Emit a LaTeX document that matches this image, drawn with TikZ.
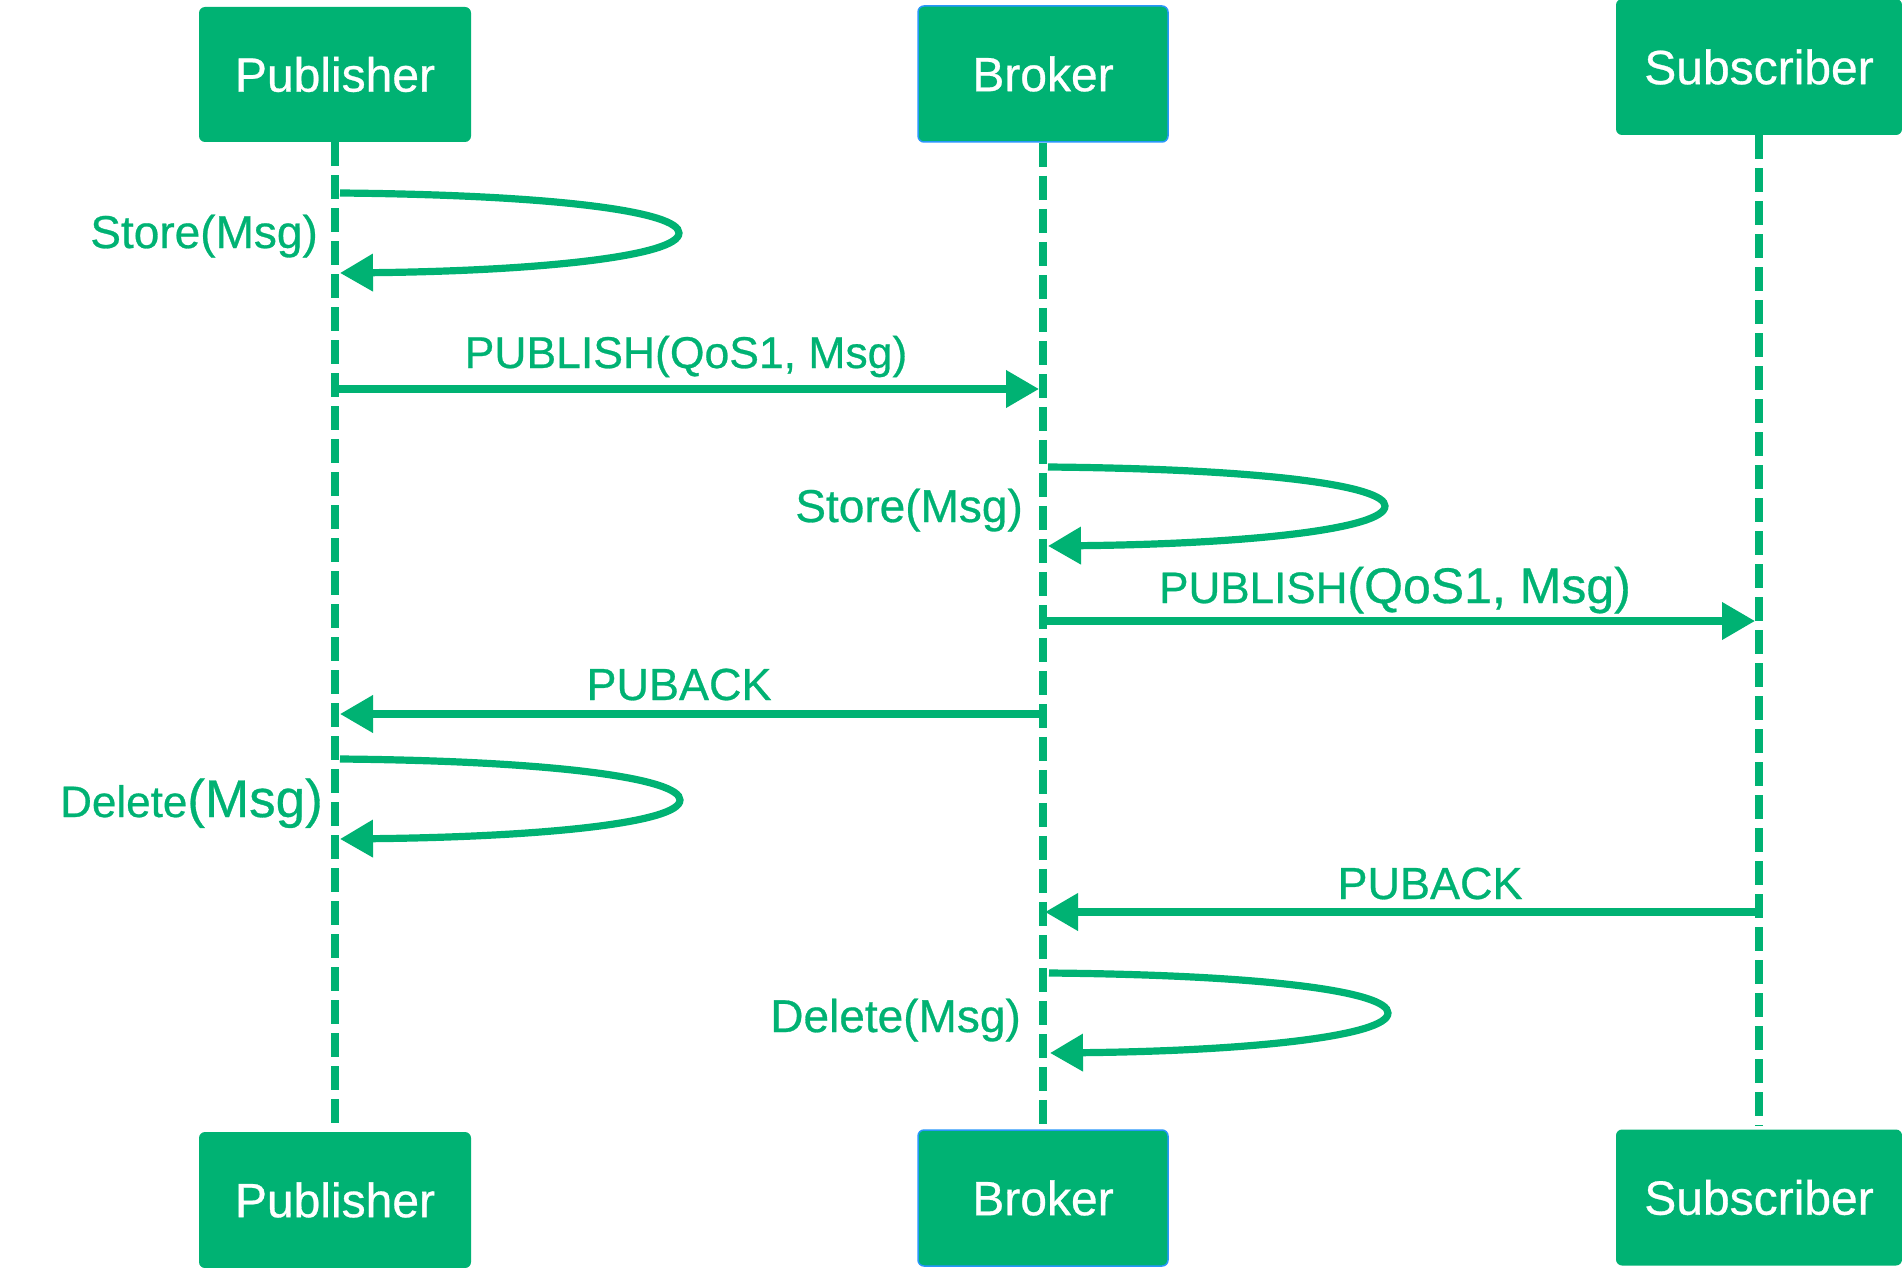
\documentclass[tikz,border=0pt]{standalone}
\usepackage{fontspec}
\setmainfont{Liberation Sans}[FakeBold=0.6]
\usetikzlibrary{arrows.meta}
\definecolor{mqgreen}{RGB}{0,178,115}
\definecolor{mqblue}{RGB}{40,150,250}
\begin{document}
\begin{tikzpicture}[x=1pt,y=-1pt,
  actor/.style={rectangle, rounded corners=6pt, fill=mqgreen, text=white, inner sep=0pt, font=\fontsize{48}{52}\selectfont},
  brokerbox/.style={actor, draw=mqblue, line width=1.5pt},
  life/.style={mqgreen, line width=7.5pt, dash pattern=on 24pt off 9pt, shorten >=4pt},
  msg/.style={mqgreen, line width=7.2pt, -{Triangle[length=33pt,width=36pt]}},
  lbl/.style={text=mqgreen, inner sep=0pt, font=\fontsize{46}{50}\selectfont}]

\useasboundingbox (0,0) rectangle (1902,1268);

% actor boxes
\node[actor, minimum width=272pt, minimum height=135pt] (pubT) at (335,74.5) {Publisher};
\node[brokerbox, minimum width=250pt, minimum height=136pt] (brkT) at (1043,74) {Broker};
\node[actor, minimum width=286pt, minimum height=136pt] (subT) at (1759,67) {Subscriber};
\node[actor, minimum width=272pt, minimum height=136pt] (pubB) at (335,1200) {Publisher};
\node[brokerbox, minimum width=250pt, minimum height=136pt] (brkB) at (1043,1198) {Broker};
\node[actor, minimum width=286pt, minimum height=136pt] (subB) at (1759,1197.5) {Subscriber};

% lifelines
\draw[life] (pubT.south) -- (pubB.north);
\draw[life] (brkT.south) -- (brkB.north);
\draw[life] (subT.south) -- (subB.north);

% self loop 1: Publisher Store
\coordinate (l1s) at (340,193);
\coordinate (l1e) at (340,273);
\draw[msg] (l1s) .. controls (560,195) and (679,212) .. (679,233) .. controls (679,256) and (540,271) .. (l1e);
\node[lbl, anchor=base east] (lab1) at (318,248) {Store(Msg)};

% PUBLISH 1
\coordinate (m1s) at (335,389);
\coordinate (m1e) at (1039,389);
\draw[msg] (m1s) -- (m1e);
\node[lbl, anchor=base, font=\fontsize{44.5}{48}\selectfont] (lab2) at (686,368) {PUBLISH(QoS1, Msg)};

% self loop 2: Broker Store
\coordinate (l2s) at (1048,467);
\coordinate (l2e) at (1048,546);
\draw[msg] (l2s) .. controls (1268,469) and (1385,486) .. (1385,506) .. controls (1385,529) and (1248,544) .. (l2e);
\node[lbl, anchor=base east] (lab3) at (1023,522) {Store(Msg)};

% PUBLISH 2
\coordinate (m2s) at (1043,621);
\coordinate (m2e) at (1755,621);
\draw[msg] (m2s) -- (m2e);
\node[lbl, anchor=base] (lab4) at (1395,603) {{\fontsize{44}{48}\selectfont PUBLISH}{\fontsize{50}{54}\selectfont (QoS1, Msg)}};

% PUBACK 1
\coordinate (m3s) at (1043,714);
\coordinate (m3e) at (340,714);
\draw[msg] (m3s) -- (m3e);
\node[lbl, anchor=base, font=\fontsize{45}{48}\selectfont] (lab5) at (679,700) {PUBACK};

% self loop 3: Publisher Delete
\coordinate (l3s) at (340,759);
\coordinate (l3e) at (340,839);
\draw[msg] (l3s) .. controls (560,761) and (680,779) .. (680,800) .. controls (680,823) and (540,837) .. (l3e);
\node[lbl, anchor=base east] (lab6) at (323,817) {{\fontsize{44}{48}\selectfont Delete}{\fontsize{53}{56}\selectfont (Msg)}};

% PUBACK 2
\coordinate (m4s) at (1759,912);
\coordinate (m4e) at (1045,912);
\draw[msg] (m4s) -- (m4e);
\node[lbl, anchor=base, font=\fontsize{45}{48}\selectfont] (lab7) at (1430,899) {PUBACK};

% self loop 4: Broker Delete
\coordinate (l4s) at (1049,973);
\coordinate (l4e) at (1050,1053);
\draw[msg] (l4s) .. controls (1270,975) and (1388,992) .. (1388,1013) .. controls (1388,1036) and (1250,1051) .. (l4e);
\node[lbl, anchor=base east] (lab8) at (1021,1032) {Delete(Msg)};

\end{tikzpicture}
\end{document}
